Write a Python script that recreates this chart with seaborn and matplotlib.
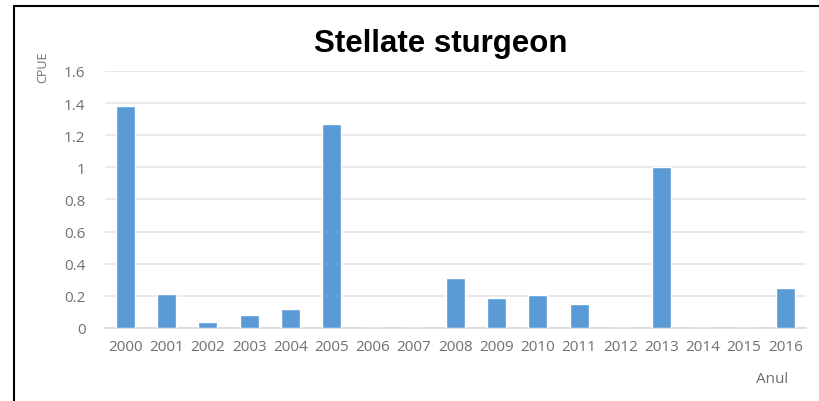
import pandas as pd
import matplotlib.pyplot as plt
import matplotlib.lines as mlines
from matplotlib.ticker import FuncFormatter
import seaborn as sns

# CPUE values
years = ['2000', '2001', '2002', '2003', '2004', '2005', '2006', '2007', '2008',
         '2009', '2010', '2011', '2012', '2013', '2014', '2015', '2016']
cpue = [1.38, 0.21, 0.04, 0.08, 0.12, 1.27, 0, 0, 0.31,
        0.185, 0.205, 0.15, 0, 1.0, 0, 0, 0.25]
y_ticks = [0, 0.2, 0.4, 0.6, 0.8, 1, 1.2, 1.4, 1.6]

sns.set_theme(style="white")
plt.rcParams['font.family'] = ['Open Sans', 'DejaVu Sans']

df = pd.DataFrame({'Anul': years, 'CPUE': cpue})

fig = plt.figure(figsize=(8.19, 4.02), dpi=100)
ax = fig.add_axes([0.128, 0.1816, 0.856, 0.6394])

sns.barplot(data=df, x='Anul', y='CPUE', color='#5B9BD5', saturation=1,
            width=0.46, ax=ax, zorder=3)

ax.set_ylim(0, 1.6)
ax.set_xlim(-0.5, len(years) - 0.5)
ax.set_yticks(y_ticks)
ax.yaxis.set_major_formatter(FuncFormatter(lambda v, p: f"{v:g}"))
ax.grid(axis='y', color='#e6e6e6', linewidth=1.2, zorder=0)
ax.tick_params(axis='both', length=0, labelsize=11, labelcolor='#707070')
ax.tick_params(axis='y', pad=14)
ax.tick_params(axis='x', pad=8)
for s in ['top', 'right', 'left']:
    ax.spines[s].set_visible(False)
ax.spines['bottom'].set_color('#d9d9d9')
ax.set_xlabel('')
ax.set_ylabel('')

# axis titles placed like the original Excel chart
fig.text(43 / 819, 1 - 67 / 402, 'CPUE', rotation=90, ha='center', va='center',
         fontsize=9, color='#707070')
fig.text(772 / 819, 1 - 380 / 402, 'Anul', ha='center', va='center',
         fontsize=11, color='#707070')

fig.text(441 / 819, 1 - 44 / 402, 'Stellate sturgeon', ha='center', va='center',
         fontsize=22.5, fontweight='bold', color='black',
         family=['Liberation Sans', 'DejaVu Sans'])

# frame lines at top and left
fig.add_artist(mlines.Line2D([14 / 819, 1], [1 - 7 / 402, 1 - 7 / 402],
                             color='black', linewidth=1.5, transform=fig.transFigure))
fig.add_artist(mlines.Line2D([14 / 819, 14 / 819], [0, 1 - 7 / 402],
                             color='black', linewidth=1.5, transform=fig.transFigure))

fig.savefig('out.png', dpi=100, facecolor='white')
